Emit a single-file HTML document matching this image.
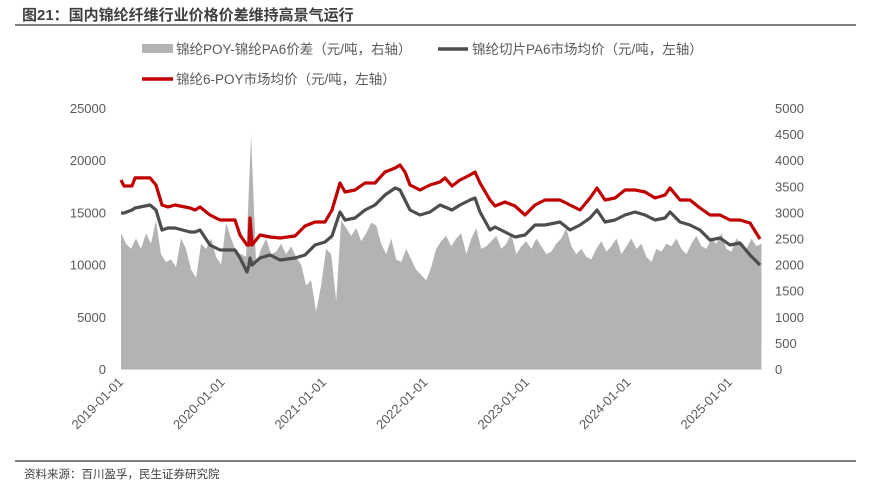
<!DOCTYPE html>
<html><head><meta charset="utf-8"><style>
body{margin:0;background:#fff;width:869px;height:488px;overflow:hidden;font-family:"Liberation Sans","Noto Sans CJK SC",sans-serif}
svg text{font-family:"Liberation Sans","Noto Sans CJK SC",sans-serif}
</style></head><body>
<svg id="c" width="869" height="488" xmlns="http://www.w3.org/2000/svg">
<text x="22" y="20" font-size="15" font-weight="bold" fill="#404040">图21：国内锦纶纤维行业价格价差维持高景气运行</text>
<line x1="15" y1="25" x2="856" y2="25" stroke="#555" stroke-width="1.5"/>
<line x1="15" y1="461" x2="856" y2="461" stroke="#555" stroke-width="1.5"/>
<text x="24" y="478" font-size="11.5" fill="#404040">资料来源：百川盈孚，民生证券研究院</text>
<g>
<rect x="142" y="44" width="31" height="9" fill="#b3b3b3"/>
<text x="176" y="54" font-size="13.5" fill="#595959">锦纶POY-锦纶PA6价差（元/吨，右轴）</text>
<line x1="438" y1="49" x2="468" y2="49" stroke="#4d4d4d" stroke-width="3.5"/>
<text x="472" y="54" font-size="13.5" fill="#595959">锦纶切片PA6市场均价（元/吨，左轴）</text>
<line x1="142" y1="79" x2="173" y2="79" stroke="#c00000" stroke-width="3.5"/>
<text x="176" y="84" font-size="13.5" fill="#595959">锦纶6-POY市场均价（元/吨，左轴）</text>
</g>
<g id="plot"></g>
</svg>
<script>
const xTickLabels=["2019-01-01","2020-01-01","2021-01-01","2022-01-01","2023-01-01","2024-01-01","2025-01-01"];
const leftTicks=[0,5000,10000,15000,20000,25000];
const rightTicks=[0,500,1000,1500,2000,2500,3000,3500,4000,4500,5000];
const lineDates=[2019.0,2019.030,2019.108,2019.138,2019.286,2019.345,2019.404,2019.463,2019.532,2019.680,2019.729,2019.778,2019.877,2019.975,2020.123,2020.172,2020.241,2020.261,2020.271,2020.291,2020.369,2020.468,2020.567,2020.714,2020.813,2020.911,2021.010,2021.079,2021.158,2021.207,2021.305,2021.404,2021.502,2021.601,2021.700,2021.749,2021.798,2021.847,2021.946,2022.044,2022.143,2022.192,2022.261,2022.340,2022.438,2022.488,2022.537,2022.635,2022.685,2022.783,2022.882,2022.980,2023.079,2023.177,2023.325,2023.424,2023.522,2023.621,2023.690,2023.768,2023.867,2023.966,2024.064,2024.163,2024.261,2024.360,2024.409,2024.507,2024.606,2024.704,2024.803,2024.901,2025.000,2025.099,2025.197,2025.296];
const poyVals=[18100,17530,17530,18300,18300,17620,15710,15520,15710,15420,15230,15520,14750,14270,14270,12840,11880,11880,14460,11880,12840,12640,12550,12740,13700,14080,14080,15230,17820,16950,17150,17820,17820,18870,19250,19540,18870,17620,17150,17620,17910,18300,17530,18100,18580,18870,17820,16190,15610,16000,15610,14750,15710,16190,16190,15710,15230,16380,17340,16190,16380,17150,17150,16950,16380,16670,17340,16190,16190,15420,14750,14750,14270,14270,13980,12450];
const pa6Vals=[14940,14940,15230,15420,15710,15230,13310,13510,13510,13120,13120,13310,11880,11400,11400,10630,9290,9960,10630,9960,10630,10920,10440,10630,10920,11880,12160,12740,15040,14270,14460,15230,15710,16670,17340,17150,16190,15230,14750,15040,15710,15520,15230,15710,16190,16380,15040,13310,13600,13120,12640,12840,13790,13790,14080,13310,13790,14460,15230,14080,14270,14750,15040,14750,14270,14460,15040,14080,13790,13310,12360,12550,11880,12070,10920,9960];
const spreadVals=[2600,2400,2300,2500,2300,2600,2400,2850,2200,2050,2100,1950,2500,2300,1900,1750,2400,2300,2500,2150,2000,2800,2500,2250,2200,2150,4480,2000,2300,2500,2200,2250,2400,2200,2350,2150,2000,1600,1700,1100,1600,2300,2200,1300,2850,2700,2550,2700,2450,2600,2800,2750,2400,2200,2500,2100,2050,2300,2100,1900,1800,1700,1950,2300,2450,2550,2350,2500,2600,2200,2500,2700,2300,2350,2450,2550,2300,2400,2600,2200,2350,2450,2300,2500,2350,2200,2250,2400,2500,2700,2350,2200,2300,2150,2100,2300,2450,2250,2350,2500,2200,2350,2500,2300,2400,2150,2050,2300,2250,2400,2350,2500,2300,2200,2400,2550,2350,2300,2500,2400,2600,2300,2250,2500,2400,2300,2500,2350,2400];
const spreadStart=2019.0, spreadEnd=2025.31;
const NS="http://www.w3.org/2000/svg";
const X0=121,X1=762,T0=2019,T1=2019+641/101.5,Y0=369,Y1=108;
const xs=t=>X0+(t-T0)/(T1-T0)*(X1-X0);
const yl=v=>Y0-v/25000*(Y0-Y1);
const yr=v=>Y0-v/5000*(Y0-Y1);
const plot=document.getElementById('plot');
function mk(tag,attrs){const e=document.createElementNS(NS,tag);for(const k in attrs)e.setAttribute(k,attrs[k]);plot.appendChild(e);return e;}
let d=`M${xs(spreadStart)},${Y0}`;
spreadVals.forEach((v,i)=>{const t=spreadStart+i*(spreadEnd-spreadStart)/(spreadVals.length-1);d+=`L${xs(t).toFixed(1)},${yr(v).toFixed(1)}`;});
d+=`L${xs(spreadEnd)},${Y0}Z`;
const area=mk('path',{d:d,fill:'#b3b3b3'});


const base=mk('line',{x1:X0,y1:Y0+0.5,x2:X1,y2:Y0+0.5,stroke:'#d9d9d9','stroke-width':1});


function line(vals,color,name){const n=Math.min(vals.length,lineDates.length);let p='';for(let i=0;i<n;i++)p+=(i?'L':'M')+xs(lineDates[i]).toFixed(1)+','+yl(vals[i]).toFixed(1);const e=mk('path',{d:p,fill:'none',stroke:color,'stroke-width':3.2,'stroke-linejoin':'round'});}
line(pa6Vals,'#4d4d4d','pa6-line');
line(poyVals,'#c00000','poy-line');
leftTicks.forEach(v=>{const t=mk('text',{x:106,y:yl(v)+5,'text-anchor':'end','font-size':13,fill:'#595959'});t.textContent=v;});
rightTicks.forEach(v=>{const t=mk('text',{x:775,y:yr(v)+5,'text-anchor':'start','font-size':13,fill:'#595959'});t.textContent=v;});
xTickLabels.forEach((s,i)=>{const x=xs(2019+i)+3,y=383;const t=mk('text',{x:x,y:y,'text-anchor':'end','font-size':13,fill:'#595959',transform:`rotate(-45 ${x} ${y})`});t.textContent=s;});
</script>
</body></html>
